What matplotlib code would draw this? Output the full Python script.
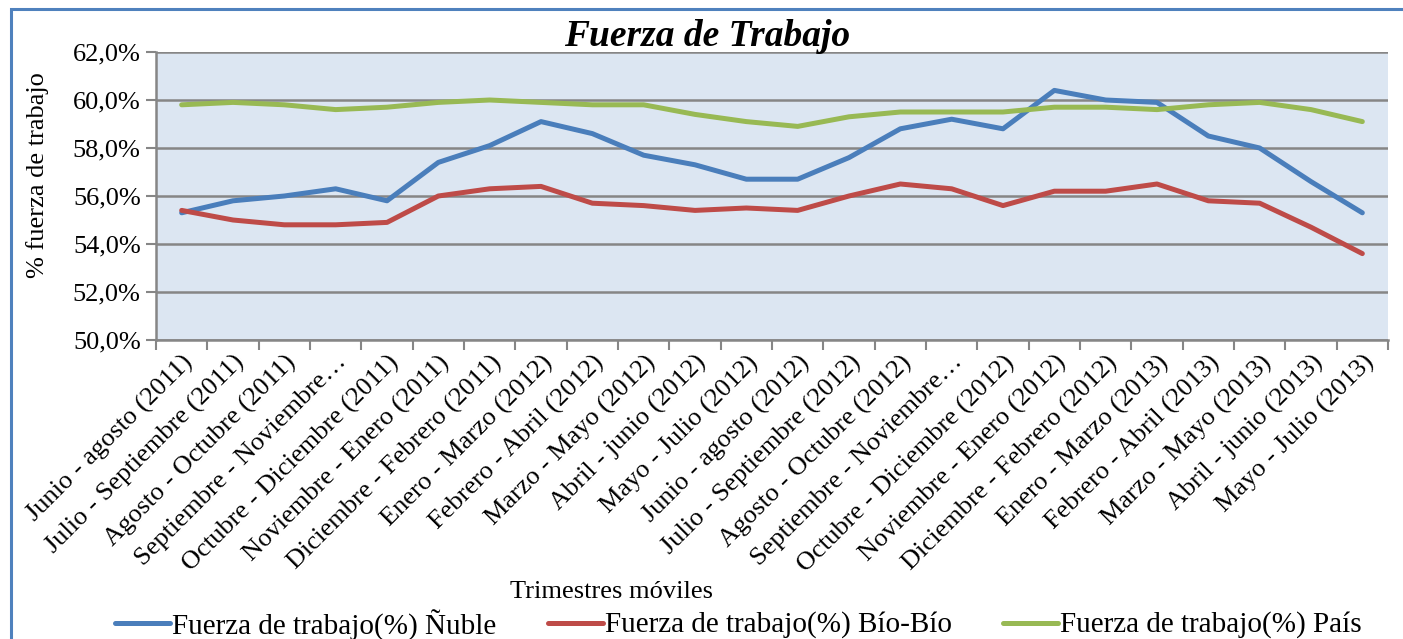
import matplotlib
matplotlib.use("Agg")
import matplotlib.pyplot as plt
from matplotlib.lines import Line2D
from matplotlib.patches import Rectangle
from matplotlib.ticker import FuncFormatter, FixedLocator

# ---------------------------------------------------------------------------
# Data
# ---------------------------------------------------------------------------
trimestres = [
    "Junio - agosto (2011)", "Julio - Septiembre (2011)", "Agosto - Octubre (2011)",
    "Septiembre - Noviembre…", "Octubre - Diciembre (2011)", "Noviembre - Enero (2011)",
    "Diciembre - Febrero (2011)", "Enero - Marzo (2012)", "Febrero - Abril (2012)",
    "Marzo - Mayo (2012)", "Abril - junio (2012)", "Mayo - Julio (2012)",
    "Junio - agosto (2012)", "Julio - Septiembre (2012)", "Agosto - Octubre (2012)",
    "Septiembre - Noviembre…", "Octubre - Diciembre (2012)", "Noviembre - Enero (2012)",
    "Diciembre - Febrero (2012)", "Enero - Marzo (2013)", "Febrero - Abril (2013)",
    "Marzo - Mayo (2013)", "Abril - junio (2013)", "Mayo - Julio (2013)",
]

nuble = [55.3, 55.8, 56.0, 56.3, 55.8, 57.4, 58.1, 59.1, 58.6, 57.7, 57.3, 56.7,
         56.7, 57.6, 58.8, 59.2, 58.8, 60.4, 60.0, 59.9, 58.5, 58.0, 56.6, 55.3]
biobio = [55.4, 55.0, 54.8, 54.8, 54.9, 56.0, 56.3, 56.4, 55.7, 55.6, 55.4, 55.5,
          55.4, 56.0, 56.5, 56.3, 55.6, 56.2, 56.2, 56.5, 55.8, 55.7, 54.7, 53.6]
pais = [59.8, 59.9, 59.8, 59.6, 59.7, 59.9, 60.0, 59.9, 59.8, 59.8, 59.4, 59.1,
        58.9, 59.3, 59.5, 59.5, 59.5, 59.7, 59.7, 59.6, 59.8, 59.9, 59.6, 59.1]

series_labels = ["Fuerza de trabajo(%) Ñuble", "Fuerza de trabajo(%) Bío-Bío",
                 "Fuerza de trabajo(%) País"]
series_colors = ["#4A7EBB", "#BE4B48", "#98B954"]

y_ticks = [50, 52, 54, 56, 58, 60, 62]

# ---------------------------------------------------------------------------
# Figure
# ---------------------------------------------------------------------------
plt.rcParams["font.family"] = ["Liberation Serif", "DejaVu Serif"]

W, H = 1403, 639
fig = plt.figure(figsize=(W / 100, H / 100), dpi=100)


def fx(px):
    return px / W


def fy(py):
    return 1 - py / H


# blue chart frame (only left and top visible in the crop)
fig.add_artist(Rectangle((fx(11), fy(700)), 1.2, fy(9) - fy(700),
                         transform=fig.transFigure, fill=False,
                         edgecolor="#4F81BD", linewidth=2.2))

ax = fig.add_axes([fx(156), fy(340), fx(1388) - fx(156), fy(52) - fy(340)])
ax.set_facecolor("#DCE6F2")

x = list(range(len(trimestres)))
for vals, lab, col in zip([nuble, biobio, pais], series_labels, series_colors):
    ax.plot(x, vals, color=col, linewidth=3.6, label=lab, solid_capstyle="round",
            zorder=3)

ax.set_xlim(-0.5, len(trimestres) - 0.5)
ax.set_ylim(50, 62)
ax.set_yticks(y_ticks)
ax.yaxis.set_major_formatter(FuncFormatter(lambda v, p: f"{v:.1f}%".replace(".", ",")))
ax.grid(axis="y", color="#868686", linewidth=1.8, zorder=1)
ax.set_axisbelow(True)

ax.set_xticks(x)
ax.set_xticklabels(trimestres, rotation=45, ha="right", rotation_mode="anchor",
                   fontsize=19)
ax.xaxis.set_minor_locator(FixedLocator([i - 0.5 for i in range(len(trimestres) + 1)]))
ax.tick_params(axis="x", which="major", length=0, pad=8)
ax.tick_params(axis="x", which="minor", length=7, width=1.5, color="#868686")
ax.tick_params(axis="y", length=7, width=1.5, color="#868686", labelsize=19, pad=4)

for s in ["top", "right"]:
    ax.spines[s].set_visible(False)
for s in ["left", "bottom"]:
    ax.spines[s].set_color("#868686")
    ax.spines[s].set_linewidth(1.8)

# titles
fig.text(fx(707), fy(37), "Fuerza de Trabajo", ha="center", va="center",
         fontsize=27, fontweight="bold", fontstyle="italic")
fig.text(fx(38), fy(175), "% fuerza de trabajo", ha="center", va="center",
         rotation=90, fontsize=19)
fig.text(fx(612), fy(592), "Trimestres móviles", ha="center", va="center",
         fontsize=19)

# legend, placed by hand like the Excel original
leg_x = [115, 548, 1003]
for px, lab, col in zip(leg_x, series_labels, series_colors):
    fig.add_artist(Line2D([fx(px), fx(px + 55)], [fy(623), fy(623)],
                          transform=fig.transFigure, color=col, linewidth=3.6,
                          solid_capstyle="round"))
    fig.text(fx(px + 57), fy(625), lab, ha="left", va="center", fontsize=21)

fig.savefig("out.png", dpi=100)
